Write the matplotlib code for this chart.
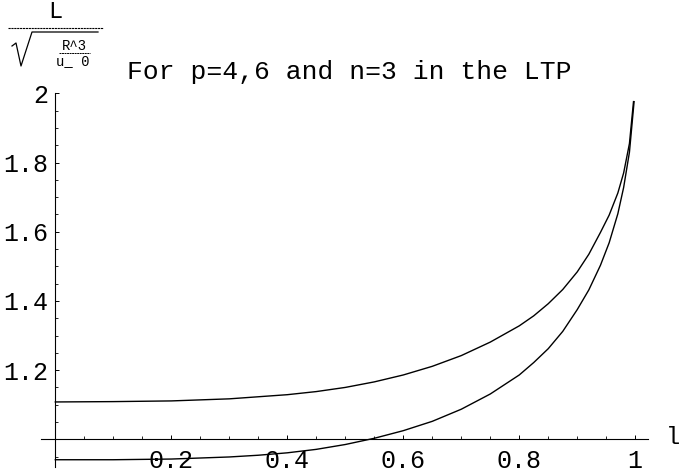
import matplotlib
matplotlib.use("Agg")
import matplotlib.pyplot as plt
from matplotlib.lines import Line2D
from matplotlib.ticker import FixedLocator, MultipleLocator

# ---- data ----
x_upper = [0.0, 0.1, 0.2, 0.3, 0.4, 0.45, 0.5, 0.55, 0.6, 0.65, 0.7, 0.75, 0.8,
           0.825, 0.85, 0.875, 0.9, 0.92, 0.94, 0.955, 0.97, 0.98, 0.99, 0.997]
y_upper = [1.108, 1.109, 1.111, 1.117, 1.129, 1.138, 1.150, 1.166, 1.186, 1.211,
           1.242, 1.281, 1.328, 1.357, 1.392, 1.433, 1.484, 1.535, 1.598, 1.648,
           1.712, 1.770, 1.855, 1.976]

x_lower = [0.0, 0.1, 0.2, 0.3, 0.35, 0.4, 0.45, 0.5, 0.55, 0.6, 0.65, 0.7, 0.75,
           0.8, 0.825, 0.85, 0.875, 0.9, 0.92, 0.94, 0.955, 0.97, 0.98, 0.99, 0.998]
y_lower = [0.941, 0.941, 0.943, 0.949, 0.954, 0.961, 0.971, 0.985, 1.003, 1.025,
           1.052, 1.087, 1.131, 1.186, 1.222, 1.262, 1.312, 1.375, 1.432, 1.503,
           1.568, 1.652, 1.728, 1.830, 1.976]

x_ticks = [0.2, 0.4, 0.6, 0.8, 1.0]
x_ticklabels = ["0.2", "0.4", "0.6", "0.8", "1"]
y_ticks = [1.2, 1.4, 1.6, 1.8, 2.0]
y_ticklabels = ["1.2", "1.4", "1.6", "1.8", "2"]

title = "For p=4,6 and n=3 in the LTP"
xlabel = "l"

FONT = "Liberation Mono"
W, H = 681, 472

fig = plt.figure(figsize=(W / 100, H / 100), dpi=100)

def fx(px):
    return px / W

def fy(py):
    return 1 - py / H

ax = fig.add_axes([fx(41), fy(467), fx(648) - fx(41), fy(93) - fy(467)])
ax.set_xlim(-0.0247, 1.022)
ax.set_ylim(0.92, 2.001)

ax.plot(x_upper, y_upper, color="black", lw=1.0)
ax.plot(x_lower, y_lower, color="black", lw=1.0)

for s in ("top", "right"):
    ax.spines[s].set_visible(False)
ax.spines["left"].set_position(("data", 0.0))
ax.spines["bottom"].set_position(("data", 1.0))
for s in ("left", "bottom"):
    ax.spines[s].set_linewidth(0.8)

ax.xaxis.set_major_locator(FixedLocator(x_ticks))
ax.set_xticklabels(x_ticklabels)
ax.xaxis.set_minor_locator(MultipleLocator(0.05))
ax.yaxis.set_major_locator(FixedLocator(y_ticks))
ax.set_yticklabels(y_ticklabels)
ax.yaxis.set_minor_locator(MultipleLocator(0.05))

ax.tick_params(axis="both", which="major", direction="in", length=3.2, width=0.7,
               labelsize=18)
ax.tick_params(axis="both", which="minor", direction="in", length=2.0, width=0.6)
ax.tick_params(axis="x", which="major", pad=7)
ax.tick_params(axis="y", which="major", pad=5)
for lab in ax.get_xticklabels() + ax.get_yticklabels():
    lab.set_fontfamily(FONT)

# x axis label
fig.text(fx(673), fy(438), xlabel, fontsize=17, family=FONT, ha="center", va="center")

# title
fig.text(fx(127), fy(79), title, fontsize=19, family=FONT, ha="left", va="baseline")

# y label: L / sqrt(R^3 / u_0)
fig.text(fx(55), fy(12), "L", fontsize=17, family=FONT, ha="center", va="center")
fig.add_artist(Line2D([fx(8), fx(103)], [fy(28), fy(28)], color="black", lw=0.8,
                      linestyle=(0, (2, 0.6)), transform=fig.transFigure))
# radical sign
fig.add_artist(Line2D([fx(12), fx(16), fx(21), fx(32), fx(98)],
                      [fy(46), fy(43), fy(66), fy(32), fy(32)],
                      color="black", lw=0.9, transform=fig.transFigure))
fig.text(fx(74), fy(46), "R^3", fontsize=10, family=FONT, ha="center", va="center")
fig.add_artist(Line2D([fx(59), fx(90)], [fy(53), fy(53)], color="black", lw=0.7,
                      linestyle=(0, (2, 0.6)), transform=fig.transFigure))
fig.text(fx(73), fy(61), "u_ 0", fontsize=10, family=FONT, ha="center", va="center")

fig.savefig("out.png", dpi=100)
